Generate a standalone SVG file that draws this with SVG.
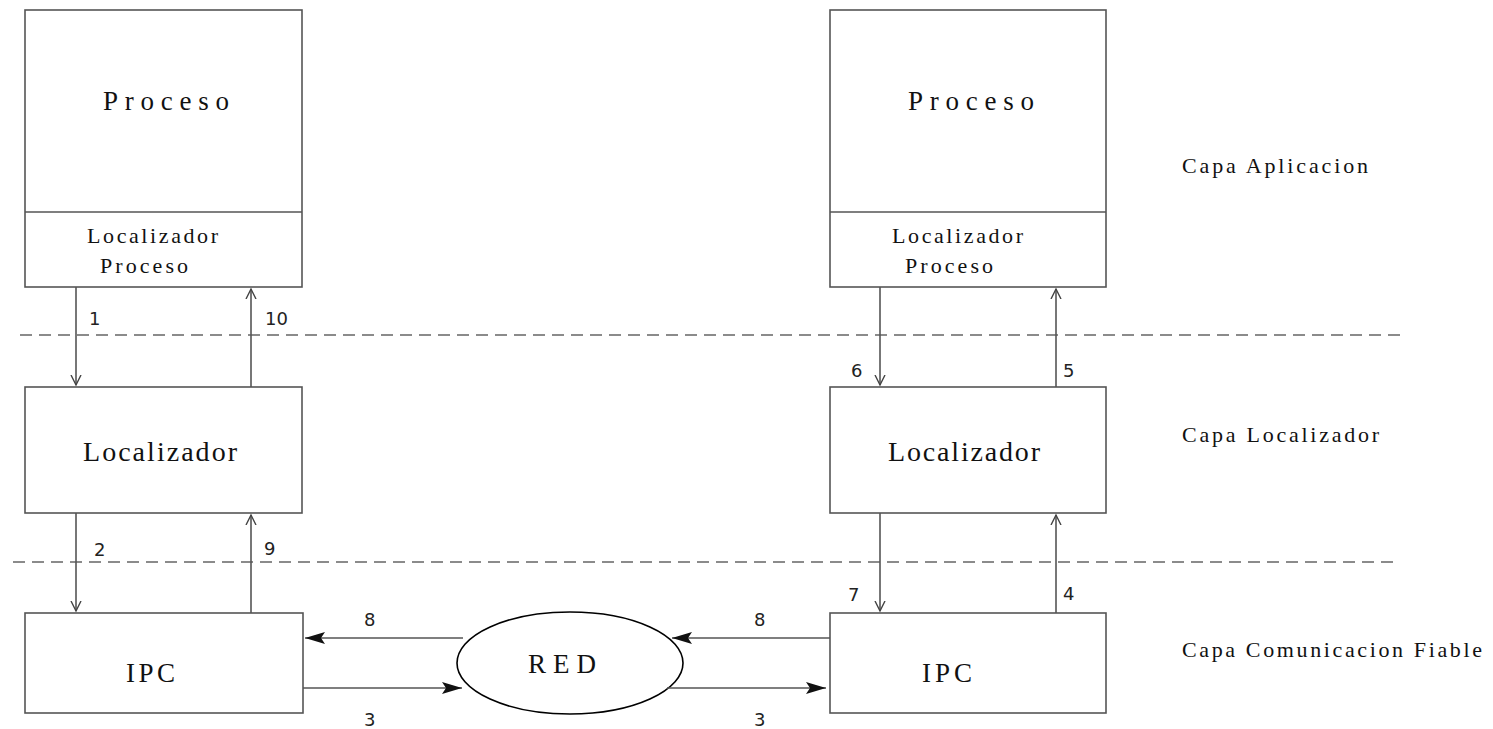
<svg xmlns="http://www.w3.org/2000/svg" width="1493" height="729" viewBox="0 0 1493 729">
<style>
.box{fill:#fff;stroke:#555;stroke-width:1.6}
.ln{stroke:#555;stroke-width:1.6;fill:none}
.dash{stroke:#666;stroke-width:1.6;stroke-dasharray:12 7;fill:none}
.t{font-family:"Liberation Serif","Times New Roman",serif;fill:#111}
.n{font-family:"DejaVu Sans","Liberation Sans",sans-serif;font-size:18px;fill:#222}
</style>
<defs>
<marker id="open" markerWidth="12" markerHeight="12" refX="10" refY="5" orient="auto" markerUnits="userSpaceOnUse" viewBox="0 0 12 10">
<path d="M0,0 L10,5 L0,10" fill="none" stroke="#444" stroke-width="1.4"/>
</marker>
<marker id="fill" markerWidth="22" markerHeight="12" refX="20" refY="6" orient="auto" markerUnits="userSpaceOnUse" viewBox="0 0 22 12">
<path d="M0,0 L20,6 L0,12 L4,6 Z" fill="#111"/>
</marker>
</defs>
<rect width="1493" height="729" fill="#fff"/>
<g id="layers">
<line class="dash" x1="20" y1="335" x2="1407" y2="335"/>
<line class="dash" x1="13" y1="562" x2="1395" y2="562"/>
<text class="t" x="1182" y="173" font-size="22" textLength="186" lengthAdjust="spacing">Capa Aplicacion</text>
<text class="t" x="1182" y="442" font-size="22" textLength="197" lengthAdjust="spacing">Capa Localizador</text>
<text class="t" x="1182" y="657" font-size="22" textLength="300" lengthAdjust="spacing">Capa Comunicacion Fiable</text>
</g>
<g id="procesoL">
<rect class="box" x="25" y="10" width="277" height="277"/>
<line class="ln" x1="25" y1="212" x2="302" y2="212"/>
<text class="t" x="103" y="110" font-size="27" textLength="126" lengthAdjust="spacing">Proceso</text>
<text class="t" x="87" y="243" font-size="22" textLength="131" lengthAdjust="spacing">Localizador</text>
<text class="t" x="100" y="273" font-size="22" textLength="88" lengthAdjust="spacing">Proceso</text>
</g>
<g id="procesoR">
<rect class="box" x="830" y="10" width="276" height="277"/>
<line class="ln" x1="830" y1="212" x2="1106" y2="212"/>
<text class="t" x="908" y="110" font-size="27" textLength="126" lengthAdjust="spacing">Proceso</text>
<text class="t" x="892" y="243" font-size="22" textLength="131" lengthAdjust="spacing">Localizador</text>
<text class="t" x="905" y="273" font-size="22" textLength="88" lengthAdjust="spacing">Proceso</text>
</g>
<g id="localizadorL">
<rect class="box" x="25" y="387" width="277" height="126"/>
<text class="t" x="83" y="461" font-size="28" textLength="154" lengthAdjust="spacing">Localizador</text>
</g>
<g id="localizadorR">
<rect class="box" x="830" y="387" width="276" height="126"/>
<text class="t" x="888" y="461" font-size="28" textLength="152" lengthAdjust="spacing">Localizador</text>
</g>
<g id="ipcL">
<rect class="box" x="25" y="613" width="278" height="100"/>
<text class="t" x="126" y="682" font-size="27" textLength="49" lengthAdjust="spacing">IPC</text>
</g>
<g id="ipcR">
<rect class="box" x="830" y="613" width="276" height="100"/>
<text class="t" x="922" y="682" font-size="27" textLength="50" lengthAdjust="spacing">IPC</text>
</g>
<g id="red">
<ellipse cx="570" cy="663" rx="113" ry="51" fill="#fff" stroke="#000" stroke-width="1.6"/>
<text class="t" x="528" y="673" font-size="27" textLength="68" lengthAdjust="spacing">RED</text>
</g>
<g id="connectors">
<line class="ln" x1="76" y1="287" x2="76" y2="385" marker-end="url(#open)"/>
<line class="ln" x1="251" y1="387" x2="251" y2="289" marker-end="url(#open)"/>
<line class="ln" x1="76" y1="513" x2="76" y2="611" marker-end="url(#open)"/>
<line class="ln" x1="251" y1="613" x2="251" y2="515" marker-end="url(#open)"/>
<line class="ln" x1="880" y1="287" x2="880" y2="385" marker-end="url(#open)"/>
<line class="ln" x1="1056" y1="387" x2="1056" y2="289" marker-end="url(#open)"/>
<line class="ln" x1="880" y1="513" x2="880" y2="611" marker-end="url(#open)"/>
<line class="ln" x1="1056" y1="613" x2="1056" y2="515" marker-end="url(#open)"/>
<line class="ln" x1="463" y1="638" x2="305" y2="638" marker-end="url(#fill)"/>
<line class="ln" x1="303" y1="688" x2="462" y2="688" marker-end="url(#fill)"/>
<line class="ln" x1="830" y1="638" x2="672" y2="638" marker-end="url(#fill)"/>
<line class="ln" x1="667" y1="688" x2="826" y2="688" marker-end="url(#fill)"/>
<text class="n" x="89" y="325">1</text>
<text class="n" x="265" y="325">10</text>
<text class="n" x="94" y="556">2</text>
<text class="n" x="264" y="555">9</text>
<text class="n" x="851" y="377">6</text>
<text class="n" x="1063" y="377">5</text>
<text class="n" x="848" y="601">7</text>
<text class="n" x="1063" y="600">4</text>
<text class="n" x="364" y="626">8</text>
<text class="n" x="364" y="726">3</text>
<text class="n" x="754" y="626">8</text>
<text class="n" x="754" y="726">3</text>
</g>
</svg>
